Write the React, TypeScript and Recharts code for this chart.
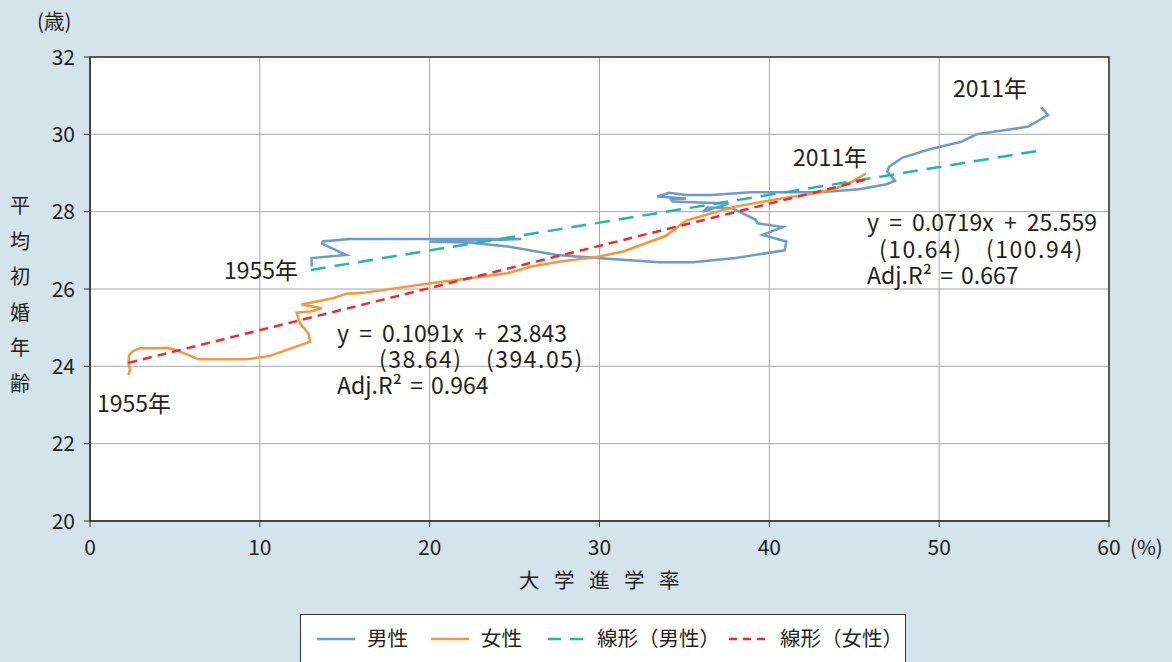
import React from 'react';
import { LineChart, Line, XAxis, YAxis, CartesianGrid, ReferenceArea } from 'recharts';

// 大学進学率 (%) と平均初婚年齢 (歳), 1955年〜2011年
const maleRate = [13.05, 13.05, 15.1, 13.67, 13.7, 15.3, 18.6, 25.4, 20.0, 22.3, 24.6, 27.5, 30.5, 33.5, 35.5, 38.0, 40.9, 41.0, 39.6, 40.8, 39.3, 39.2, 37.8, 36.35, 36.1, 37.6, 34.3, 34.2, 35.1, 33.4, 34.1, 35.1, 36.6, 38.9, 43.0, 45.3, 46.9, 47.4, 46.95, 47.05, 47.85, 49.5, 51.25, 52.2, 55.25, 56.4, 56.0];
const maleAge = [26.58, 26.8, 26.88, 27.17, 27.23, 27.29, 27.29, 27.29, 27.22, 27.2, 27.1, 26.88, 26.78, 26.69, 26.69, 26.8, 27.0, 27.23, 27.4, 27.6, 27.7, 27.79, 28.09, 28.11, 28.0, 28.21, 28.26, 28.32, 28.34, 28.39, 28.49, 28.43, 28.43, 28.5, 28.5, 28.58, 28.71, 28.8, 29.03, 29.16, 29.4, 29.62, 29.8, 30.0, 30.2, 30.5, 30.7];

const femaleRate = [2.26, 2.36, 2.26, 2.3, 2.55, 2.94, 3.93, 4.5, 4.9, 5.3, 6.4, 9.2, 10.6, 12.96, 12.86, 12.37, 12.17, 13.0, 13.64, 12.46, 14.3, 15.1, 16.1, 20.06, 24.6, 26.0, 27.7, 29.75, 31.4, 33.9, 35.1, 36.6, 38.0, 40.7, 42.6, 43.9, 44.9, 45.7];
const femaleAge = [23.78, 23.9, 24.08, 24.29, 24.4, 24.47, 24.47, 24.48, 24.44, 24.38, 24.18, 24.18, 24.27, 24.64, 24.85, 25.11, 25.39, 25.42, 25.5, 25.6, 25.76, 25.88, 25.9, 26.15, 26.41, 26.58, 26.71, 26.82, 26.97, 27.37, 27.77, 27.96, 28.13, 28.34, 28.47, 28.6, 28.78, 28.99];

// 回帰式
const maleSlope = 0.0719;
const maleIntercept = 25.559;
const femaleSlope = 0.1091;
const femaleIntercept = 23.843;

const xTicks = [0, 10, 20, 30, 40, 50, 60];
const yTicks = [20, 22, 24, 26, 28, 30, 32];
const yLabelChars = ['平', '均', '初', '婚', '年', '齢'];

const male = maleRate.map((x, i) => ({ x, y: maleAge[i] }));
const female = femaleRate.map((x, i) => ({ x, y: femaleAge[i] }));
const maleTrend = [13.0, 56.0].map((x) => ({ x, y: maleSlope * x + maleIntercept }));
const femaleTrend = [Math.min(...femaleRate), Math.max(...femaleRate)].map((x) => ({ x, y: femaleSlope * x + femaleIntercept }));

const FONT = '"Noto Sans CJK JP", "Noto Sans", sans-serif';
const TEXT = '#231f20';
const BLUE = '#6b9bd2';
const ORANGE = '#f7963a';
const TEAL = '#22b8a4';
const RED = '#ee2a2f';

const XTick = (props: any) => {
  const { x, y, payload } = props;
  return (
    <g>
      <text x={x} y={y} dy={16} textAnchor="middle" fill={TEXT} fontSize={21} fontFamily={FONT}>
        {payload.value}
      </text>
      {payload.value === 60 && (
        <text x={x + 21} y={y} dy={16} textAnchor="start" fill={TEXT} fontSize={20.5} fontFamily={FONT}>
          (%)
        </text>
      )}
    </g>
  );
};

const YTick = (props: any) => {
  const { x, y, payload } = props;
  return (
    <text x={x} y={y} dy={7.5} textAnchor="end" fill={TEXT} fontSize={21} fontFamily={FONT}>
      {payload.value}
    </text>
  );
};

const abs = (left: number, top: number, extra: React.CSSProperties = {}): React.CSSProperties => ({
  position: 'absolute',
  left,
  top,
  whiteSpace: 'pre',
  fontFamily: FONT,
  color: TEXT,
  lineHeight: 1,
  ...extra,
});

const EQ: React.CSSProperties = { fontSize: 23, wordSpacing: 5 };
const PAR: React.CSSProperties = { fontSize: 23, letterSpacing: 1.5 };
const ANN: React.CSSProperties = { fontSize: 23, wordSpacing: 3 };

const LegendItem = ({ color, dash, label, left, lineLeft }: { color: string; dash?: string; label: string; left: number; lineLeft: number }) => (
  <>
    <svg style={{ position: 'absolute', left: lineLeft - 300, top: 22 }} width={40} height={4}>
      <line x1={0} y1={2} x2={38} y2={2} stroke={color} strokeWidth={2.5} strokeDasharray={dash} />
    </svg>
    <div style={abs(left - 300, 12, { fontSize: 20.5 })}>{label}</div>
  </>
);

export default function App() {
  return (
    <div style={{ position: 'fixed', left: 0, top: 0, width: 1172, height: 662, background: '#d5e3eb', overflow: 'hidden' }}>
      <LineChart width={1172} height={662} data={male} margin={{ top: 57, right: 63, left: 0, bottom: 101 }}>
        <CartesianGrid stroke="#a6a6a6" strokeWidth={1} fill="#ffffff" />
        <XAxis
          dataKey="x"
          type="number"
          domain={[0, 60]}
          ticks={xTicks}
          interval={0}
          height={40}
          tick={<XTick />}
          tickSize={6}
          tickMargin={12}
          axisLine={{ stroke: '#333' }}
          tickLine={{ stroke: '#333' }}
          allowDataOverflow
        />
        <YAxis
          dataKey="y"
          type="number"
          domain={[20, 32]}
          ticks={yTicks}
          interval={0}
          width={90}
          tick={<YTick />}
          tickSize={6}
          tickMargin={9}
          axisLine={{ stroke: '#333' }}
          tickLine={{ stroke: '#333' }}
          allowDataOverflow
        />
        <ReferenceArea x1={0} x2={60} y1={20} y2={32} fill="none" fillOpacity={0} stroke="#333" strokeWidth={1.5} ifOverflow="visible" />
        <Line data={male} dataKey="y" stroke={BLUE} strokeWidth={2.5} dot={false} isAnimationActive={false} type="linear" />
        <Line data={female} dataKey="y" stroke={ORANGE} strokeWidth={2.5} dot={false} isAnimationActive={false} type="linear" />
        <Line data={maleTrend} dataKey="y" stroke={TEAL} strokeWidth={2.5} strokeDasharray="15 9" dot={false} isAnimationActive={false} type="linear" />
        <Line data={femaleTrend} dataKey="y" stroke={RED} strokeWidth={2.5} strokeDasharray="9 6" dot={false} isAnimationActive={false} type="linear" />
      </LineChart>

      <div style={abs(37, 10, { fontSize: 20.5 })}>(歳)</div>
      {yLabelChars.map((c, i) => (
        <div key={i} style={abs(10, 195 + i * 35.5, { fontSize: 20 })}>{c}</div>
      ))}
      <div style={abs(519, 569, { fontSize: 20.5, letterSpacing: 14.5 })}>大学進学率</div>

      <div style={abs(953, 76, { fontSize: 23 })}>2011年</div>
      <div style={abs(793, 145, { fontSize: 23 })}>2011年</div>
      <div style={abs(224, 258, { fontSize: 23 })}>1955年</div>
      <div style={abs(97, 391, { fontSize: 23 })}>1955年</div>

      <div style={abs(867, 210, EQ)}>y = 0.0719x + 25.559</div>
      <div style={abs(879, 237, PAR)}>(10.64)</div>
      <div style={abs(986, 237, PAR)}>(100.94)</div>
      <div style={abs(867, 263, ANN)}>Adj.R² = 0.667</div>

      <div style={abs(337, 321, EQ)}>y = 0.1091x + 23.843</div>
      <div style={abs(379, 347, PAR)}>(38.64)</div>
      <div style={abs(486, 347, PAR)}>(394.05)</div>
      <div style={abs(337, 373, ANN)}>Adj.R² = 0.964</div>

      <div style={{ position: 'absolute', left: 300, top: 614, width: 604, height: 80, background: '#fff', border: '1.5px solid #333' }}>
        <LegendItem color={BLUE} label="男性" left={366} lineLeft={316} />
        <LegendItem color={ORANGE} label="女性" left={480} lineLeft={430} />
        <LegendItem color={TEAL} dash="13 9" label="線形（男性）" left={596} lineLeft={547} />
        <LegendItem color={RED} dash="8 6" label="線形（女性）" left={779} lineLeft={728} />
      </div>
    </div>
  );
}
